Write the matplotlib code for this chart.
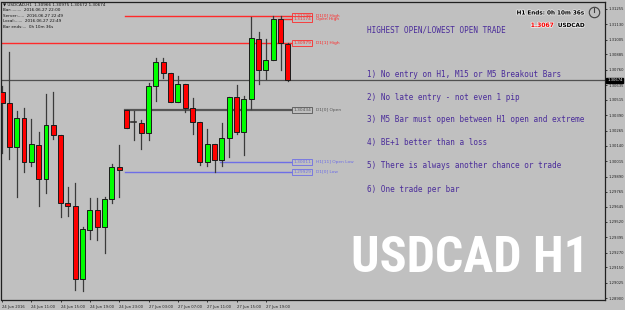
import matplotlib
matplotlib.use("Agg")
import matplotlib.pyplot as plt
import matplotlib.patheffects as pe
from matplotlib.patches import Rectangle

# USDCAD H1 bars, 24 Jun 2016 07:00 .. 27 Jun 2016 22:00
opens = [1.30579, 1.30490, 1.30133, 1.30369, 1.30011, 1.30150, 1.29867, 1.30307,
         1.30226, 1.29674, 1.29652, 1.29055, 1.29457, 1.29615, 1.29476, 1.29707,
         1.29970, 1.30434, 1.30331, 1.30324, 1.30242, 1.30625, 1.30821, 1.30731,
         1.30500, 1.30641, 1.30446, 1.30337, 1.30011, 1.30155, 1.30025, 1.30206,
         1.30535, 1.30250, 1.30522, 1.31008, 1.30758, 1.30839, 1.31174, 1.30966]
highs = [1.30628, 1.30902, 1.30426, 1.30446, 1.30359, 1.30250, 1.30565, 1.30581,
         1.30226, 1.29805, 1.29835, 1.29481, 1.29712, 1.29712, 1.29725, 1.29990,
         1.30147, 1.30436, 1.30424, 1.30350, 1.30656, 1.30858, 1.30858, 1.30731,
         1.30711, 1.30641, 1.30526, 1.30337, 1.30277, 1.30155, 1.30324, 1.30535,
         1.30636, 1.30546, 1.31192, 1.31065, 1.31008, 1.31198, 1.31198, 1.30975]
lows = [1.30082, 1.30030, 1.29725, 1.29929, 1.29976, 1.29652, 1.29753, 1.30196,
        1.29563, 1.29571, 1.28965, 1.28957, 1.29378, 1.29373, 1.29264, 1.29672,
        1.29725, 1.30285, 1.30188, 1.30114, 1.30185, 1.30509, 1.30695, 1.30500,
        1.30495, 1.30418, 1.30240, 1.29984, 1.29978, 1.29929, 1.29978, 1.30051,
        1.30236, 1.30065, 1.30440, 1.30644, 1.30685, 1.30839, 1.30758, 1.30672]
closes = [1.30489, 1.30133, 1.30369, 1.30011, 1.30157, 1.29867, 1.30307, 1.30226,
          1.29677, 1.29652, 1.29055, 1.29462, 1.29615, 1.29476, 1.29707, 1.29970,
          1.29943, 1.30288, 1.30331, 1.30242, 1.30625, 1.30821, 1.30731, 1.30500,
          1.30641, 1.30446, 1.30337, 1.30011, 1.30155, 1.30025, 1.30206, 1.30535,
          1.30250, 1.30522, 1.31016, 1.30758, 1.30839, 1.31174, 1.30976, 1.30674]

time_ticks = [0, 4, 8, 12, 16, 20, 24, 28, 32, 36]
time_labels = ["24 Jun 2016", "24 Jun 11:00", "24 Jun 15:00", "24 Jun 19:00",
               "24 Jun 23:00", "27 Jun 03:00", "27 Jun 07:00", "27 Jun 11:00",
               "27 Jun 15:00", "27 Jun 19:00"]
price_ticks = [1.31255, 1.31130, 1.31005, 1.30885, 1.30760, 1.30635, 1.30515,
               1.30390, 1.30265, 1.30140, 1.30015, 1.29890, 1.29765, 1.29645,
               1.29520, 1.29395, 1.29270, 1.29150, 1.29025, 1.28900]
bid = 1.30674

# level lines: name, price, first bar, colour
level_names = ["D1[0] High", "Open High", "D1[1] High", "D1[0] Open",
               "H1[11] Open Low", "D1[0] Low"]
level_prices = [1.31198, 1.31174, 1.30979, 1.30434, 1.30011, 1.29929]
level_start = [16.8, 37.6, -1, 16.8, 29.7, 16.8]
level_colors = ["#ff2a2a", "#ff2a2a", "#ff2a2a", "#555555", "#6e6ee6", "#6e6ee6"]

rules = ["1) No entry on H1, M15 or M5 Breakout Bars",
         "2) No late entry - not even 1 pip",
         "3) M5 Bar must open between H1 open and extreme",
         "4) BE+1 better than a loss",
         "5) There is always another chance or trade",
         "6) One trade per bar"]

BG = "#c0c0c0"
W, H = 625, 310

fig = plt.figure(figsize=(6.25, 3.1), dpi=100, facecolor=BG)
ax = fig.add_axes([1.5 / W, 10 / H, (605 - 1.5) / W, (300 - 2) / H])
ax.set_facecolor(BG)
ax.set_xlim(-0.07, 82.26)
ax.set_ylim(1.28884, 1.31312)

def px(x):
    return x / W

def py(y):
    return 1 - y / H

# current price line
ax.axhline(bid, color="#505050", lw=0.9, zorder=1)

# level lines with their labels
box_x = 39.56
for name, p, s, c in zip(level_names, level_prices, level_start, level_colors):
    lw = 1.6 if name == "D1[0] Open" else 1.0
    ax.plot([s, box_x], [p, p], color=c, lw=lw, zorder=1)
    ax.text(box_x + 0.15, p, "%.5f" % p, fontsize=3.2, color=c, va="center",
            ha="left", zorder=5,
            bbox=dict(boxstyle="square,pad=0.25", fc=BG, ec=c, lw=0.6))
    dy = -0.00004 if name == "Open High" else 0
    ax.text(42.9, p + dy, name, fontsize=3.2, color=c, va="center", ha="left")

# candles
bw = 0.68
for i, (o, h, l, c) in enumerate(zip(opens, highs, lows, closes)):
    ax.plot([i, i], [l, h], color="#3a3a3a", lw=0.9, zorder=2)
    if abs(c - o) < 0.00003:
        ax.plot([i - bw / 2, i + bw / 2], [o, o], color="#303030", lw=1.2, zorder=3)
        continue
    col = "#00ff00" if c > o else "#ff0000"
    ax.add_patch(Rectangle((i - bw / 2, min(o, c)), bw, abs(c - o),
                           fc=col, ec="#1a1a1a", lw=0.7, zorder=3))

# axes look
for side in ["left", "top", "right", "bottom"]:
    ax.spines[side].set_color("#202020")
    ax.spines[side].set_linewidth(0.9)
ax.yaxis.tick_right()
ax.set_yticks(price_ticks)
ax.set_yticklabels(["%.5f" % v for v in price_ticks])
ax.set_xticks(time_ticks)
ax.set_xticklabels(time_labels, ha="left")
ax.tick_params(axis="both", labelsize=2.7, length=1.5, width=0.6,
               colors="#202020", pad=0.8, direction="out")
ax.tick_params(axis="x", pad=2)

# current price box on the axis
ax.text(1.0035, bid, "%.5f" % bid, transform=ax.get_yaxis_transform(),
        fontsize=2.7, color="white", va="center", ha="left",
        bbox=dict(boxstyle="square,pad=0.2", fc="black", ec="black"))

# top-left info
info = ["\u25bc USDCAD,H1  1.30966 1.30975 1.30672 1.30674",
        "Bar:........  2016.06.27 22:00",
        "Server:.....  2016.06.27 22:49",
        "Local:......  2016.06.27 22:49",
        "Bar ends:...  0h 10m 36s"]
for k, line in enumerate(info):
    fig.text(px(3), py(4.7 + k * 5.6), line, fontsize=3.0, color="#111111",
             va="center", ha="left")

# rules panel
purple = "#4a2c9a"
mono = "DejaVu Sans Mono"
fig.text(px(367), py(30), "HIGHEST OPEN/LOWEST OPEN TRADE", fontsize=5.5,
         family=mono, color=purple, va="center", ha="left")
for k, r in enumerate(rules):
    fig.text(px(367), py(74 + k * 23), r, fontsize=5.5, family=mono,
             color=purple, va="center", ha="left")

# timer / symbol info top right
narrow = ["Liberation Sans Narrow", "DejaVu Sans"]
halo = [pe.withStroke(linewidth=1.2, foreground="#e8e8e8")]
fig.text(px(584), py(13), "H1 Ends: 0h 10m 36s", fontsize=4.1, family=narrow,
         weight="bold", color="black", ha="right", va="center", path_effects=halo)
fig.text(px(554), py(25.5), "1.3067", fontsize=4.3, family=narrow,
         weight="bold", color="#ff0000", ha="right", va="center", path_effects=halo)
fig.text(px(584), py(25.5), "USDCAD", fontsize=4.1, family=narrow,
         weight="bold", color="black", ha="right", va="center", path_effects=halo)

# clock icon
fig.add_artist(plt.Line2D([px(594)], [py(11.5)], marker="o", ms=7.5, mfc="none",
                          mec="#404040", mew=0.8))
fig.add_artist(plt.Line2D([px(594), px(594)], [py(11.5), py(8)],
                          color="#404040", lw=0.8))

# big watermark
fig.text(px(470), py(258), "USDCAD H1", fontsize=36,
         family=["Roboto Condensed", "Liberation Sans Narrow", "DejaVu Sans"],
         weight="bold", color="white", ha="center", va="center")

fig.savefig("out.png", dpi=100, facecolor=BG)
